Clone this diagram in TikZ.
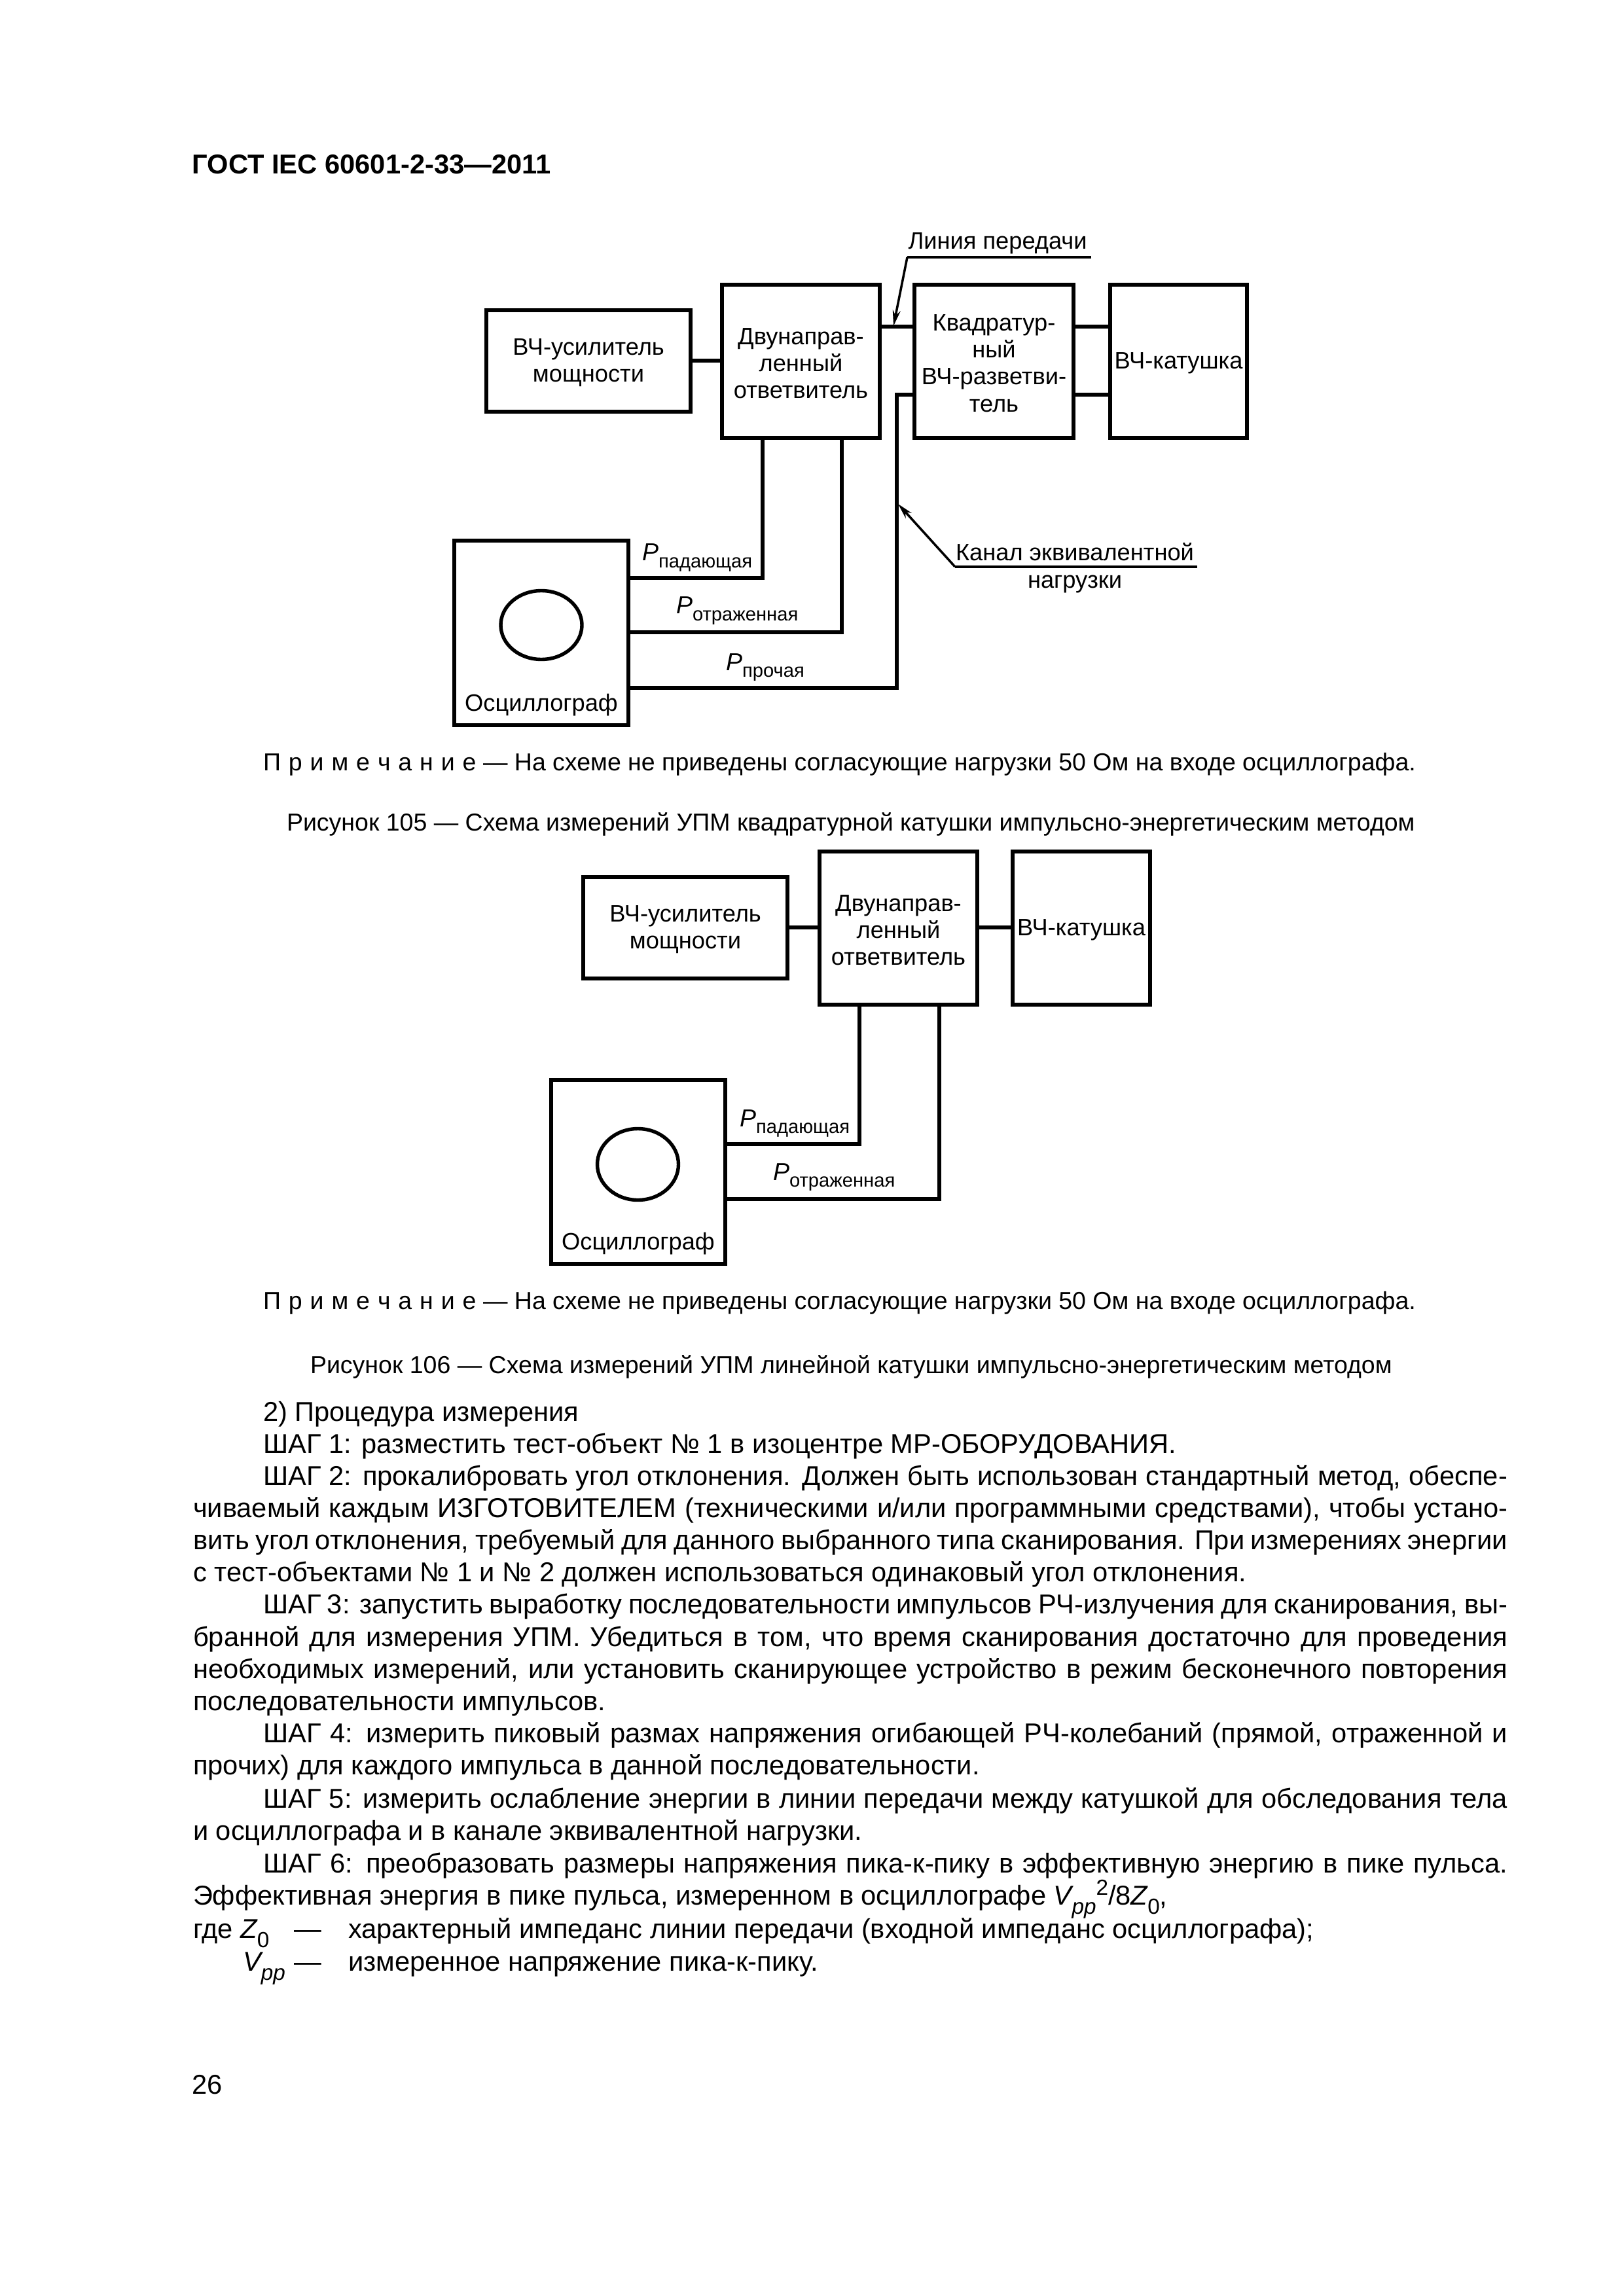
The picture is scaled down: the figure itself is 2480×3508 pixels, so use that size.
\documentclass[tikz,border=0pt]{standalone}
\usepackage{fontspec}
\setmainfont{Liberation Sans}
\newfontfamily\spacedfont[LetterSpace=4]{Liberation Sans}
\usetikzlibrary{arrows.meta,shapes.geometric}
\newcommand\bodyfs{\fontsize{10}{12}\selectfont}
\newcommand\notefs{\fontsize{9}{11}\selectfont}
\newcommand\boxfs{\fontsize{8.7}{9.9}\selectfont}
\newcommand\lowtxt[1]{\raisebox{-3.4pt}{\fontsize{8}{9}\selectfont\itshape #1}}
\newcommand\lowrm[1]{\raisebox{-3.4pt}{\fontsize{8}{9}\selectfont #1}}
\newcommand\hightxt[1]{\raisebox{3.6pt}{\fontsize{8}{9}\selectfont #1}}
\newcommand\plab[2]{{\fontsize{9}{10}\selectfont\itshape #1}\raisebox{-2.5pt}{\fontsize{7}{8}\selectfont #2}}
\tikzset{
  blk/.style={draw=black,line width=1.5pt,inner sep=0pt,outer sep=0pt},
  wire/.style={draw=black,line width=1.3pt},
  lead/.style={draw=black,line width=0.85pt},
  leadarrow/.style={lead,-{Stealth[length=24*0.24pt,width=12*0.24pt]}},
  lbl/.style={inner sep=0pt,outer sep=0pt,align=center,font=\boxfs},
  plb/.style={inner sep=0pt,outer sep=0pt,anchor=base west},
  line/.style={inner sep=0pt,outer sep=0pt,anchor=base west,font=\bodyfs},
  nt/.style={inner sep=0pt,outer sep=0pt,anchor=base west,font=\notefs},
  scr/.style={draw=black,line width=1.3pt,ellipse,inner sep=0pt,outer sep=0pt}
}
% name, x1, y1, x2, y2, text
\newcommand\bx[6]{\node[blk,minimum width={(#4-#2)*0.24pt},minimum height={(#5-#3)*0.24pt}] (#1) at ({(#2+#4)/2},{(#3+#5)/2}) {};
  \node[lbl] (#1t) at ({(#2+#4)/2},{(#3+#5)/2+3}) {#6};}
% justified line: name, x1, baseline, text
\newcommand\jl[4]{\node[line] (#1) at (#2,#3) {\makebox[{\dimexpr 2303pt*24/100-#2pt*24/100\relax}][s]{#4}};}
\begin{document}
\begin{tikzpicture}[x=0.24pt,y=-0.24pt]
\useasboundingbox (0,0) rectangle (2480,3508);
\fill[white] (0,0) rectangle (2480,3508);

\node[inner sep=0pt,anchor=base west,font=\fontsize{10}{12}\selectfont\bfseries] (hdr) at (293,266) {ГОСТ IEC 60601-2-33—2011};

% Figure 105
\bx{amp}{743}{474}{1055}{629}{ВЧ-усилитель\\мощности}
\bx{coup}{1103}{435}{1344}{669}{Двунаправ-\\ленный\\ответвитель}
\bx{split}{1397}{435}{1640}{669}{Квадратур-\\ный\\ВЧ-разветви-\\тель}
\bx{coil}{1696}{435}{1905}{669}{ВЧ-катушка}
\bx{osc}{694}{826}{960}{1108}{}
\node[scr,minimum width={124*0.24pt},minimum height={105*0.24pt}] (scr) at (827,955) {};
\node[lbl] (osct) at (827,1077) {Осциллограф};

\draw[wire] (amp.east |- 0,551) -- (coup.west |- 0,551);
\draw[wire] (coup.east |- 0,499) -- (split.west |- 0,499);
\draw[wire] (split.east |- 0,499) -- (coil.west |- 0,499);
\draw[wire] (split.east |- 0,603) -- (coil.west |- 0,603);
\coordinate (c1) at (1165,883);
\coordinate (c2) at (1286,966);
\coordinate (c3) at (1370,1051);
\coordinate (c4) at (1370,603);
\draw[wire] (c1 |- coup.south) -- (c1) -- (osc.east |- c1);
\draw[wire] (c2 |- coup.south) -- (c2) -- (osc.east |- c2);
\draw[wire] (split.west |- c4) -- (c4) -- (c3) -- (osc.east |- c3);

\node[plb] (p1) at (981,857) {\plab{P}{падающая}};
\node[plb] (p2) at (1033,938) {\plab{P}{отраженная}};
\node[plb] (p3) at (1109,1024) {\plab{P}{прочая}};

\node[lbl] (tl) at (1524,372) {Линия передачи};
\coordinate (tla) at (1386,393);
\coordinate (tlb) at (1667,393);
\coordinate (tlt) at (1365,498);
\draw[lead] (tlb) -- (tla);
\draw[leadarrow] (tla) -- (tlt);

\node[lbl] (cha) at (1642,843) {Канал эквивалентной};
\node[lbl] (chb) at (1642,893) {нагрузки};
\coordinate (cla) at (1459,866);
\coordinate (clb) at (1829,866);
\coordinate (clt) at (1372,770);
\draw[lead] (clb) -- (cla);
\draw[leadarrow] (cla) -- (clt);

\node[nt] (n1) at (402,1177) {{\spacedfont П р и м е ч а н и е} — На схеме не приведены согласующие нагрузки 50 Ом на входе осциллографа.};
\node[nt] (cap1) at (438,1269) {Рисунок 105 — Схема измерений УПМ квадратурной катушки импульсно-энергетическим методом};

% Figure 106
\bx{amp2}{891}{1340}{1203}{1495}{ВЧ-усилитель\\мощности}
\bx{coup2}{1252}{1301}{1493}{1535}{Двунаправ-\\ленный\\ответвитель}
\bx{coil2}{1547}{1301}{1757}{1535}{ВЧ-катушка}
\bx{osc2}{842}{1650}{1108}{1931}{}
\node[scr,minimum width={124*0.24pt},minimum height={109*0.24pt}] (scr2) at (974.5,1779) {};
\node[lbl] (osct2) at (975,1900) {Осциллограф};

\draw[wire] (amp2.east |- 0,1417) -- (coup2.west |- 0,1417);
\draw[wire] (coup2.east |- 0,1417) -- (coil2.west |- 0,1417);
\coordinate (d1) at (1313,1748);
\coordinate (d2) at (1435,1832);
\draw[wire] (d1 |- coup2.south) -- (d1) -- (osc2.east |- d1);
\draw[wire] (d2 |- coup2.south) -- (d2) -- (osc2.east |- d2);

\node[plb] (q1) at (1130,1721) {\plab{P}{падающая}};
\node[plb] (q2) at (1181,1803) {\plab{P}{отраженная}};

\node[nt] (n2) at (402,2000) {{\spacedfont П р и м е ч а н и е} — На схеме не приведены согласующие нагрузки 50 Ом на входе осциллографа.};
\node[nt] (cap2) at (474,2098) {Рисунок 106 — Схема измерений УПМ линейной катушки импульсно-энергетическим методом};

% Body text
\node[line] (l1) at (402,2171) {2) Процедура измерения};
\node[line] (l2) at (402,2220) {ШАГ 1: разместить тест-объект № 1 в изоцентре МР-ОБОРУДОВАНИЯ.};
\jl{l3}{402}{2269}{ШАГ 2: прокалибровать угол отклонения. Должен быть использован стандартный метод, обеспе-}
\jl{l4}{295}{2318}{чиваемый каждым ИЗГОТОВИТЕЛЕМ (техническими и/или программными средствами), чтобы устано-}
\jl{l5}{295}{2367}{вить угол отклонения, требуемый для данного выбранного типа сканирования. При измерениях энергии}
\node[line] (l6) at (295,2416) {с тест-объектами № 1 и № 2 должен использоваться одинаковый угол отклонения.};
\jl{l7}{402}{2465}{ШАГ 3: запустить выработку последовательности импульсов РЧ-излучения для сканирования, вы-}
\jl{l8}{295}{2515}{бранной для измерения УПМ. Убедиться в том, что время сканирования достаточно для проведения}
\jl{l9}{295}{2564}{необходимых измерений, или установить сканирующее устройство в режим бесконечного повторения}
\node[line] (l10) at (295,2613) {последовательности импульсов.};
\jl{l11}{402}{2662}{ШАГ 4: измерить пиковый размах напряжения огибающей РЧ-колебаний (прямой, отраженной и}
\node[line] (l12) at (295,2711) {прочих) для каждого импульса в данной последовательности.};
\jl{l13}{402}{2762}{ШАГ 5: измерить ослабление энергии в линии передачи между катушкой для обследования тела}
\node[line] (l14) at (295,2811) {и осциллографа и в канале эквивалентной нагрузки.};
\jl{l15}{402}{2861}{ШАГ 6: преобразовать размеры напряжения пика-к-пику в эффективную энергию в пике пульса.}
\node[line] (l16) at (295,2910) {Эффективная энергия в пике пульса, измеренном в осциллографе {\itshape V}\lowtxt{pp}\hightxt{2}/8{\itshape Z}\lowrm{0},};
\node[line] (l17a) at (295,2961) {где {\itshape Z}\lowrm{0}};
\node[line] (l17b) at (449,2961) {—};
\node[line] (l17c) at (532,2961) {характерный импеданс линии передачи (входной импеданс осциллографа);};
\node[line] (l18a) at (371,3011) {{\itshape V}\lowtxt{pp}};
\node[line] (l18b) at (449,3011) {—};
\node[line] (l18c) at (532,3011) {измеренное напряжение пика-к-пику.};
\node[line] (pg) at (293,3199) {26};
\end{tikzpicture}
\end{document}
